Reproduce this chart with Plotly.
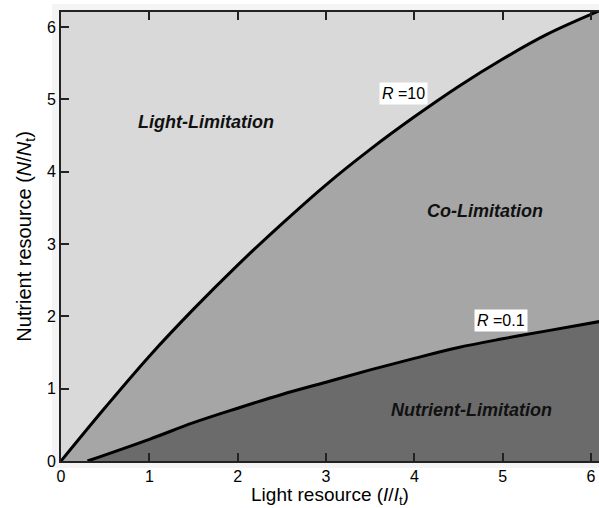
import plotly.graph_objects as go

# Data
light_r10 = [0.0, 0.5, 1.0, 1.5, 2.0, 2.5, 3.0, 3.5, 4.0, 4.5, 5.0, 5.5, 6.1]
nutr_r10 = [0.0, 0.74, 1.45, 2.10, 2.71, 3.28, 3.82, 4.31, 4.76, 5.18, 5.56, 5.90, 6.23]

light_r01 = [0.3, 1.0, 1.5, 2.0, 2.5, 3.0, 3.5, 4.0, 4.5, 5.0, 5.5, 6.1]
nutr_r01 = [0.0, 0.30, 0.53, 0.73, 0.92, 1.09, 1.26, 1.42, 1.57, 1.69, 1.80, 1.93]

tick_vals = [0, 1, 2, 3, 4, 5, 6]

region_labels = ["<b><i>Light-Limitation</i></b>", "<b><i>Co-Limitation</i></b>", "<b><i>Nutrient-Limitation</i></b>"]
region_x = [1.64, 4.80, 4.65]
region_y = [4.69, 3.46, 0.71]

curve_labels = ["<i>R</i> =10", "<i>R</i> =0.1"]
curve_lab_x = [3.88, 4.98]
curve_lab_y = [5.08, 1.95]

FONT = "Liberation Sans, Arial"

fig = go.Figure()
fig.add_trace(go.Scatter(x=light_r10, y=nutr_r10, mode="lines", line=dict(color="black", width=3, shape="spline"),
                         fill="tozeroy", fillcolor="#a6a6a6", showlegend=False, hoverinfo="skip"))
fig.add_trace(go.Scatter(x=light_r01, y=nutr_r01, mode="lines", line=dict(color="black", width=3, shape="spline"),
                         fill="tozeroy", fillcolor="#6b6b6b", showlegend=False, hoverinfo="skip"))

for t, x, y in zip(region_labels, region_x, region_y):
    fig.add_annotation(x=x, y=y, text=t, showarrow=False,
                       font=dict(family=FONT, size=18, color="#111"))
for t, x, y in zip(curve_labels, curve_lab_x, curve_lab_y):
    fig.add_annotation(x=x, y=y, text=t, showarrow=False, bgcolor="white", borderpad=2,
                       font=dict(family=FONT, size=16, color="black"))

# light frame around the plot, then the light-limitation background
fig.add_shape(type="rect", xref="paper", yref="paper", x0=-0.0167, x1=1.02, y0=-0.0156, y1=1.018,
              fillcolor="#f4f4f4", line=dict(width=0), layer="below")
fig.add_shape(type="rect", xref="paper", yref="paper", x0=0, x1=1, y0=0, y1=1,
              fillcolor="#d9d9d9", line=dict(width=0), layer="below")

axis_common = dict(
    tickvals=tick_vals, ticks="inside", ticklen=8, tickwidth=1.5, tickcolor="#222",
    showline=True, linecolor="#222", linewidth=2, showgrid=False, zeroline=False,
    tickfont=dict(family=FONT, size=16, color="black"),
)
fig.update_xaxes(range=[0, 6.09], mirror="ticks",
                 title=dict(text="Light resource (<i>I</i>/<i>I</i><sub>t</sub>)", standoff=3,
                            font=dict(family=FONT, size=19, color="black")),
                 **axis_common)
fig.update_yaxes(range=[0, 6.21], mirror=False,
                 title=dict(text="Nutrient resource (<i>N</i>/<i>N</i><sub>t</sub>)", standoff=10,
                            font=dict(family=FONT, size=20, color="black")),
                 **axis_common)

fig.update_layout(
    width=599, height=508,
    margin=dict(l=61, r=0, t=12, b=47),
    plot_bgcolor="#d9d9d9", paper_bgcolor="white",
)
fig.write_html("out.html")
